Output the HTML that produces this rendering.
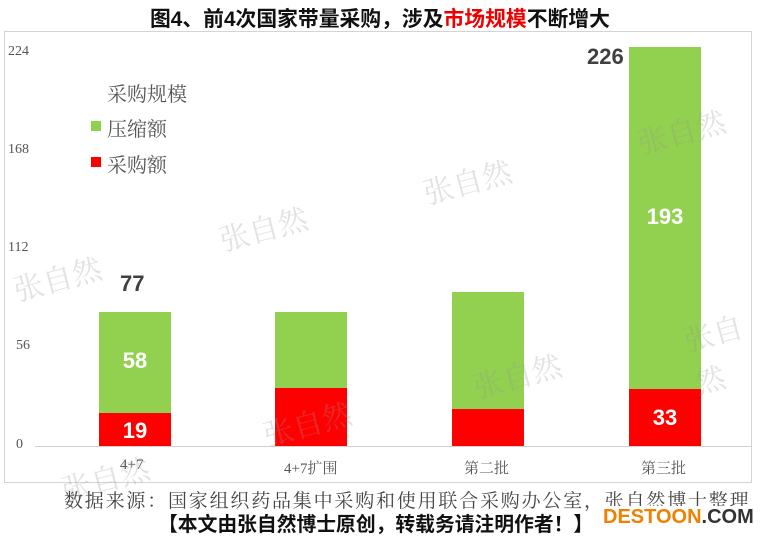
<!DOCTYPE html>
<html><head><meta charset="utf-8"><style>
body{margin:0;width:768px;height:542px;background:#fff;position:relative;overflow:hidden;font-family:"Liberation Sans","Noto Sans CJK SC",sans-serif}
.a{position:absolute;white-space:nowrap}
.t{font-weight:bold;font-size:20.8px;color:#111}
.ser{font-family:"Liberation Serif","Noto Serif CJK SC",serif}
.wm{position:absolute;color:rgba(150,150,150,0.28);font-size:30px;transform:rotate(-15deg);font-family:"Liberation Serif","Noto Serif CJK SC",serif}
.bar{position:absolute;width:72px}
.g{background:#92d050}.r{background:#ff0000}
.lbl{position:absolute;width:72px;text-align:center;color:#fff;font-weight:bold;font-size:22px}
</style></head><body>
<div class="a t" style="left:150px;top:2px;">图4、前4次国家带量采购，涉及<span style="color:#e00">市场规模</span>不断增大</div>
<div class="a" style="left:4px;top:31px;width:746px;height:450px;border:1px solid #d4d4d4;"></div>
<div class="a ser" style="left:8px;top:44px;font-size:14px;color:#555">224</div>
<div class="a ser" style="left:8px;top:142px;font-size:14px;color:#555">168</div>
<div class="a ser" style="left:8px;top:240px;font-size:14px;color:#555">112</div>
<div class="a ser" style="left:16px;top:338px;font-size:14px;color:#555">56</div>
<div class="a ser" style="left:16px;top:437px;font-size:14px;color:#555">0</div>
<div class="a" style="left:35px;top:446px;width:717px;height:1px;background:#d0d0d0"></div>
<div class="a ser" style="left:107px;top:78px;font-size:20px;color:#555">采购规模</div>
<div class="a" style="left:91px;top:121px;width:10px;height:10px;background:#92d050"></div>
<div class="a ser" style="left:107px;top:113px;font-size:20px;color:#555">压缩额</div>
<div class="a" style="left:91px;top:157px;width:10px;height:10px;background:#f00"></div>
<div class="a ser" style="left:107px;top:149px;font-size:20px;color:#555">采购额</div>

<div class="bar g" style="left:99px;top:312px;height:101px"></div>
<div class="bar r" style="left:99px;top:413px;height:33px"></div>
<div class="bar g" style="left:275px;top:312px;height:76px"></div>
<div class="bar r" style="left:275px;top:388px;height:58px"></div>
<div class="bar g" style="left:452px;top:292px;height:117px"></div>
<div class="bar r" style="left:452px;top:409px;height:37px"></div>
<div class="bar g" style="left:629px;top:47px;height:342px"></div>
<div class="bar r" style="left:629px;top:389px;height:57px"></div>

<div class="lbl" style="left:99px;top:348px">58</div>
<div class="lbl" style="left:99px;top:418px">19</div>
<div class="lbl" style="left:629px;top:204px">193</div>
<div class="lbl" style="left:629px;top:405px">33</div>
<div class="a" style="left:120px;top:271px;font-weight:bold;font-size:22px;color:#404040">77</div>
<div class="a" style="left:587px;top:44px;font-weight:bold;font-size:22px;color:#404040">226</div>

<div class="a ser" style="left:120px;top:457px;font-size:15px;color:#555">4+7</div>
<div class="a ser" style="left:284px;top:457px;font-size:15px;color:#555">4+7扩围</div>
<div class="a ser" style="left:464px;top:457px;font-size:15px;color:#555">第二批</div>
<div class="a ser" style="left:641px;top:457px;font-size:15px;color:#555">第三批</div>

<div class="wm" style="left:12px;top:255px">张自然</div>
<div class="wm" style="left:218px;top:205px">张自然</div>
<div class="wm" style="left:422px;top:158px">张自然</div>
<div class="wm" style="left:636px;top:108px">张自然</div>
<div class="wm" style="left:262px;top:400px">张自然</div>
<div class="wm" style="left:472px;top:352px">张自然</div>
<div class="wm" style="left:688px;top:306px">张自然</div>
<div class="wm" style="left:60px;top:455px">张自然</div>

<div class="a ser" style="left:64px;top:486px;font-size:19px;letter-spacing:1.8px;color:#444">数据来源：国家组织药品集中采购和使用联合采购办公室，张自然博士整理</div>
<div class="a" style="left:158px;top:508px;font-size:19.8px;font-weight:bold;color:#111">【本文由张自然博士原创，转载务请注明作者！】</div>
<div class="a" style="left:600px;top:506px;font-size:20px;font-weight:bold;color:#f08000;background:#fff;padding-left:3px">DESTOON<span style="color:#333">.COM</span></div>
</body></html>
